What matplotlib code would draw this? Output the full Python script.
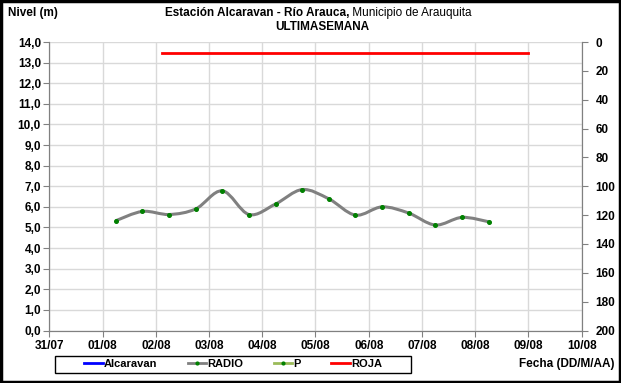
import pandas as pd
import numpy as np
import matplotlib
matplotlib.use("Agg")
import matplotlib.pyplot as plt
import matplotlib.dates as mdates
from matplotlib.path import Path
from matplotlib.patches import PathPatch, Rectangle
from matplotlib.lines import Line2D
from matplotlib.ticker import FuncFormatter, MultipleLocator

plt.rcParams["font.family"] = ["Liberation Sans", "DejaVu Sans"]

# ── Data ──────────────────────────────────────────────────────────
radio_times = [
    "2024-08-01 06:00", "2024-08-01 18:00", "2024-08-02 06:00", "2024-08-02 18:00",
    "2024-08-03 06:00", "2024-08-03 18:00", "2024-08-04 06:00", "2024-08-04 18:00",
    "2024-08-05 06:00", "2024-08-05 18:00", "2024-08-06 06:00", "2024-08-06 18:00",
    "2024-08-07 06:00", "2024-08-07 18:00", "2024-08-08 06:00",
]
radio_levels = [5.33, 5.78, 5.63, 5.90, 6.78, 5.63, 6.14, 6.84,
                6.39, 5.60, 6.00, 5.70, 5.12, 5.49, 5.28]

roja_times = ["2024-08-02 03:00", "2024-08-09 00:00"]
roja_values = [7.5, 7.5]

x_start, x_end = "2024-07-31", "2024-08-10"

# ── Figure ────────────────────────────────────────────────────────
fig = plt.figure(figsize=(6.21, 3.83), dpi=100)
ax = fig.add_axes([0.0794, 0.137, 0.8573, 0.7533])
ax2 = ax.twinx()

x = mdates.date2num(pd.to_datetime(radio_times))
y = np.array(radio_levels)

# smoothed line like Excel (bezier segments through the points)
verts = [(x[0], y[0])]
codes = [Path.MOVETO]
n = len(x)
for i in range(n - 1):
    p0 = np.array([x[max(i - 1, 0)], y[max(i - 1, 0)]])
    p1 = np.array([x[i], y[i]])
    p2 = np.array([x[i + 1], y[i + 1]])
    p3 = np.array([x[min(i + 2, n - 1)], y[min(i + 2, n - 1)]])
    c1 = p1 + (p2 - p0) / 6
    c2 = p2 - (p3 - p1) / 6
    verts += [tuple(c1), tuple(c2), tuple(p2)]
    codes += [Path.CURVE4] * 3
ax.add_patch(PathPatch(Path(verts, codes), facecolor="none",
                       edgecolor="#808080", linewidth=2.2, zorder=3))
ax.plot(x, y, linestyle="none", marker="o", markersize=2.6,
        color="#008000", zorder=4)

xr = mdates.date2num(pd.to_datetime(roja_times))
ax2.plot(xr, roja_values, color="#ff0000", linewidth=2)

# ── Axes styling ──────────────────────────────────────────────────
ax.set_xlim(mdates.date2num(pd.Timestamp(x_start)), mdates.date2num(pd.Timestamp(x_end)))
ax.set_ylim(0, 14)
ax2.set_ylim(200, 0)

ax.xaxis.set_major_locator(mdates.DayLocator())
ax.xaxis.set_major_formatter(mdates.DateFormatter("%d/%m"))
ax.yaxis.set_major_locator(MultipleLocator(1))
ax.yaxis.set_major_formatter(FuncFormatter(lambda v, p: f"{v:.1f}".replace(".", ",")))
ax2.yaxis.set_major_locator(MultipleLocator(20))

ax.grid(True, color="#d9d9d9", linewidth=1)
ax.set_axisbelow(True)
for a in (ax, ax2):
    for s in a.spines.values():
        s.set_color("#808080")
    a.spines["top"].set_visible(False)
    a.tick_params(colors="#808080", length=4, labelsize=8.5, labelcolor="black")
for lbl in ax.get_xticklabels() + ax.get_yticklabels() + ax2.get_yticklabels():
    lbl.set_fontweight("bold")
ax.tick_params(axis="x", pad=3)
ax.tick_params(axis="y", pad=2)
ax2.tick_params(axis="y", pad=6)

# ── Titles ────────────────────────────────────────────────────────
fig.text(0.013, 0.966, "Nivel (m)", fontsize=8.5, fontweight="bold", va="center")
t1 = fig.text(0.265, 0.966, "Estación Alcaravan - Río Arauca,", fontsize=8.5,
              fontweight="bold", va="center")
fig.canvas.draw()
bb = t1.get_window_extent().transformed(fig.transFigure.inverted())
fig.text(bb.x1, 0.966, " Municipio de Arauquita", fontsize=8.5, va="center")
fig.text(0.5185, 0.929, "ULTIMASEMANA", fontsize=8.5, fontweight="bold",
         va="center", ha="center")
fig.text(0.99, 0.05, "Fecha (DD/M/AA)", fontsize=8.5, fontweight="bold",
         va="center", ha="right")

# ── Legend ────────────────────────────────────────────────────────
handles = [
    Line2D([], [], color="#0000ff", linewidth=2),
    Line2D([], [], color="#808080", linewidth=2, marker="o", markersize=2,
           markerfacecolor="#008000", markeredgecolor="#008000"),
    Line2D([], [], color="#9bbb59", linewidth=2, marker="o", markersize=2,
           markerfacecolor="#008000", markeredgecolor="#008000"),
    Line2D([], [], color="#ff0000", linewidth=2),
]
leg = fig.legend(handles, ["Alcaravan", "RADIO", "P", "ROJA"], ncol=4,
                 loc="center", bbox_to_anchor=(0.3752, 0.0496),
                 prop={"size": 8, "weight": "bold"}, frameon=False,
                 handlelength=1.7, handletextpad=0.1,
                 columnspacing=2.7, borderpad=0.2)
# legend box drawn separately (wider padding than matplotlib gives)
fig.patches.append(Rectangle((55 / 621, 1 - 372.5 / 383), 356 / 621, 17 / 383,
                             transform=fig.transFigure, fill=False,
                             edgecolor="black", linewidth=1))

# figure border
fig.patches.append(Rectangle((0.002, 0.003), 0.996, 0.994, transform=fig.transFigure,
                             fill=False, edgecolor="black", linewidth=2.5))

fig.savefig("out.png", dpi=100)
